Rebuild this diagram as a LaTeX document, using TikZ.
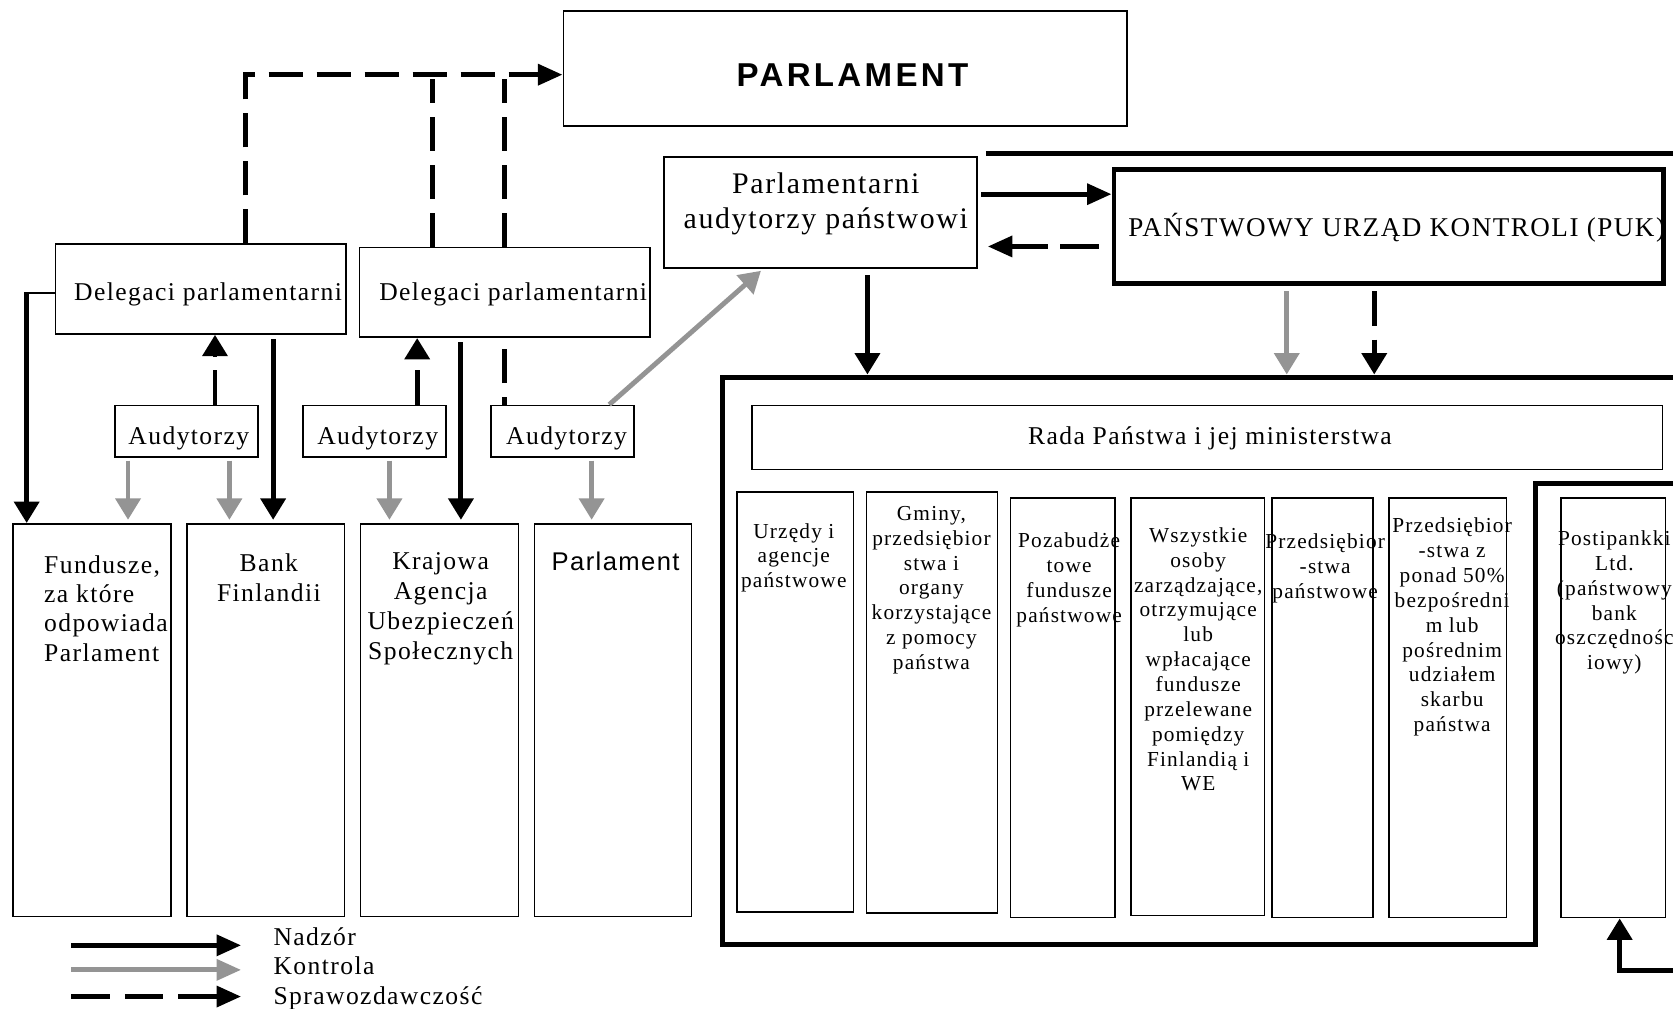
\documentclass[tikz,border=0pt]{standalone}
\usepackage{fontspec}
\setmainfont{Liberation Serif}[LetterSpace=5.5]
\newfontfamily\hdfont{Liberation Sans}[LetterSpace=10]
\newfontfamily\sfplain{Liberation Sans}[LetterSpace=5.5]
\usetikzlibrary{arrows.meta,fit}
\definecolor{ctlgray}{gray}{0.58}
\tikzset{
  box/.style={draw, line width=0.8pt, inner sep=0pt},
  heavybox/.style={draw, line width=2.2pt, inner sep=0pt},
  vtip/.style={-{Triangle[length=10pt,width=11.5pt]}},
  htip/.style={-{Triangle[length=11.5pt,width=9.6pt]}},
  supline/.style={line width=2.3pt},
  ctlline/.style={line width=2.3pt, color=ctlgray},
  repdash/.style={line width=2.3pt, dash pattern=on 16pt off 6.5pt},
  framepath/.style={line width=2.3pt},
  t12/.style={inner sep=0pt, font=\fontsize{12}{13.8}\selectfont, align=center},
  t10/.style={inner sep=0pt, font=\fontsize{10}{11.65}\selectfont, align=center, anchor=north},
}
\begin{document}
\begin{tikzpicture}[x=0.5pt,y=-0.5pt]
\useasboundingbox (0,0) rectangle (1568,945);

% ---------- boxes ----------
\node[box, fit={(528,10)(1056,118)}] (parl) {};
\node[inner sep=0pt, font=\hdfont\bfseries\fontsize{15.5}{18}\selectfont] at (799,70) {PARLAMENT};

\node[box, fit={(52,229)(324,313)}] (del1) {};
\node[t12, anchor=base] at (195,282) {Delegaci parlamentarni};
\node[box, fit={(337,232)(609,316)}] (del2) {};
\node[t12, anchor=base] at (481,282) {Delegaci parlamentarni};

\node[box, fit={(108,380)(242,428)}] (a1) {};
\node[t12, anchor=base] at (177,416.5) {Audytorzy};
\node[box, fit={(284,380)(418,428)}] (a2) {};
\node[t12, anchor=base] at (354,416.5) {Audytorzy};
\node[box, fit={(460,380)(594,428)}] (a3) {};
\node[t12, anchor=base] at (531,416.5) {Audytorzy};

\node[box, fit={(12,491)(160,859)}] (fund) {};
\node[t12, align=left, anchor=north west] at (41,520) {Fundusze,\\za które\\odpowiada\\Parlament};
\node[box, fit={(175,491)(323,859)}] (bank) {};
\node[t12, anchor=north] at (252,519) {Bank\\Finlandii};
\node[box, fit={(338,491)(486,859)}] (kraj) {};
\node[t12, anchor=north, font=\fontsize{12}{14.2}\selectfont] at (413,517) {Krajowa\\Agencja\\Ubezpieczeń\\Społecznych};
\node[box, fit={(501,491)(648,859)}] (parl2) {};
\node[inner sep=0pt, anchor=base, font=\sfplain\fontsize{12}{14}\selectfont] at (577,535) {Parlament};

\node[box, fit={(622,147)(916,251)}] (paud) {};
\node[inner sep=0pt, align=center, anchor=north, font=\fontsize{14}{16}\selectfont] at (774,162) {Parlamentarni\\audytorzy państwowi};

\node[heavybox, fit={(1044,159)(1559,266)}] (puk) {};
\node[inner sep=0pt, anchor=base, font=\fontsize{12.7}{15}\selectfont] at (1309,222) {PAŃSTWOWY URZĄD KONTROLI (PUK)};

\node[box, fit={(705,380)(1558,440)}] (rada) {};
\node[t12, anchor=base] at (1134,417) {Rada Państwa i jej ministerstwa};

\node[box, fit={(691,461)(800,855)}] (c1) {};
\node[t10] at (744,490) {Urzędy i\\agencje\\państwowe};
\node[box, fit={(812,461)(935,856)}] (c2) {};
\node[t10] at (873,474) {Gminy,\\przedsiębior\\stwa i\\organy\\korzystające\\z pomocy\\państwa};
\node[box, fit={(947,467)(1045,860)}] (c3) {};
\node[t10] at (1002,499) {Pozabudże\\towe\\fundusze\\państwowe};
\node[box, fit={(1060,467)(1185,858)}] (c4) {};
\node[t10] at (1123,494) {Wszystkie\\osoby\\zarządzające,\\otrzymujące\\lub\\wpłacające\\fundusze\\przelewane\\pomiędzy\\Finlandią i\\WE};
\node[box, fit={(1192,467)(1287,860)}] (c5) {};
\node[t10] at (1242,500) {Przedsiębior\\-stwa\\państwowe};
\node[box, fit={(1302,467)(1412,860)}] (c6) {};
\node[t10] at (1361,485) {Przedsiębior\\-stwa z\\ponad 50\%\\bezpośredni\\m lub\\pośrednim\\udziałem\\skarbu\\państwa};
\node[box, fit={(1463,467)(1561,860)}] (post) {};
\node[t10] at (1513,497) {Postipankki\\Ltd.\\(państwowy\\bank\\oszczędnośc\\iowy)};

% ---------- frames ----------
\coordinate (ftl) at (677,354);
\draw[framepath] (1568,354) -- (ftl) -- (677,885) -- (1439,885) -- (1439,453) -- (1568,453);
\coordinate (topl) at (924,144);
\coordinate (topr) at (1568,144);
\draw[framepath] (topl) -- (topr);

% ---------- reporting to parliament ----------
\coordinate (r1) at (230,70);
\draw[repdash, htip] (230,0 |- del1.north) -- (r1) -- (parl.west |- r1);
\coordinate (r2) at (405,74);
\coordinate (r3) at (473,74);
\draw[repdash] (405,0 |- del2.north) -- (r2);
\draw[repdash] (473,0 |- del2.north) -- (r3);

% ---------- delegates ----------
\coordinate (l1) at (25,275);
\draw[line width=1pt] (del1.west |- l1) -- (l1);
\draw[supline, vtip] ([yshift=0.5pt]l1) -- (l1 |- fund.north);
\draw[supline, vtip, shorten <=2pt, shorten >=1.5pt] (256,0 |- del1.south) -- (256,0 |- bank.north);
\draw[supline, vtip, shorten <=2pt, shorten >=1.5pt] (432,0 |- del2.south) -- (432,0 |- kraj.north);

% ---------- auditors ----------
\draw[repdash, vtip] (201.5,0 |- a1.north) -- (201.5,0 |- del1.south);
\draw[repdash, vtip] (391,0 |- a2.north) -- (391,0 |- del2.south);
\draw[repdash, dash phase=12.5pt] (472.6,0 |- a3.north) -- (472.6,0 |- del2.south);
\draw[ctlline, vtip, shorten <=1.5pt, shorten >=1.5pt] (120,0 |- a1.south) -- (120,0 |- fund.north);
\draw[ctlline, vtip, shorten <=1.5pt, shorten >=1.5pt] (215,0 |- a1.south) -- (215,0 |- bank.north);
\draw[ctlline, vtip, shorten <=1.5pt, shorten >=1.5pt] (365,0 |- a2.south) -- (365,0 |- kraj.north);
\draw[ctlline, vtip, shorten <=1.5pt, shorten >=1.5pt] (554.5,0 |- a3.south) -- (554.5,0 |- parl2.north);
\draw[ctlline, vtip] (571,0 |- a3.north) -- ([xshift=46pt,yshift=-1pt]paud.south west);

% ---------- PUK ----------
\draw[supline, htip, shorten <=1.5pt] (paud.east |- 0,182) -- (puk.west |- 0,182);
\draw[repdash, htip, dash pattern=on 18pt off 6pt, shorten <=6pt, shorten >=4.5pt] (puk.west |- 0,231) -- (paud.east |- 0,231);
\draw[supline, vtip, shorten <=3pt, shorten >=1.5pt] (813,0 |- paud.south) -- (813,0 |- ftl);
\draw[ctlline, vtip, shorten <=2.5pt, shorten >=1.5pt] (1206,0 |- puk.south) -- (1206,0 |- ftl);
\draw[repdash, vtip, shorten <=2.5pt, shorten >=1.5pt] (1288,0 |- puk.south) -- (1288,0 |- ftl);

% ---------- Postipankki ----------
\coordinate (pa) at (1568,910);
\draw[supline, vtip] (pa) -| (1518,0 |- post.south);

% ---------- legend ----------
\coordinate (lg1a) at (67,886); \coordinate (lg1b) at (226,886);
\coordinate (lg2a) at (67,909); \coordinate (lg2b) at (226,909);
\coordinate (lg3a) at (67,934); \coordinate (lg3b) at (226,934);
\draw[supline, htip] (lg1a) -- (lg1b);
\draw[ctlline, htip] (lg2a) -- (lg2b);
\draw[repdash, htip, dash pattern=on 18pt off 7pt] (lg3a) -- (lg3b);
\node[t12, anchor=base west] at (256,886) {Nadzór};
\node[t12, anchor=base west] at (256,913) {Kontrola};
\node[t12, anchor=base west] at (256,941) {Sprawozdawczość};
\end{tikzpicture}
\end{document}
